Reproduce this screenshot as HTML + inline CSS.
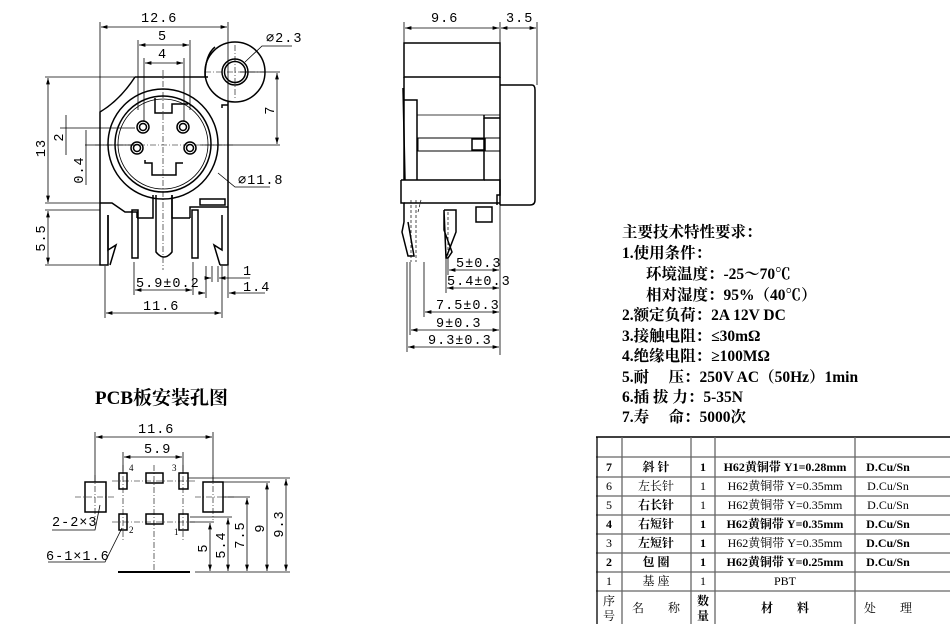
<!DOCTYPE html>
<html><head><meta charset="utf-8"><style>
html,body{margin:0;padding:0;background:#fff}
svg{display:block}
text{font-family:"Liberation Serif","Noto Serif CJK SC",serif;fill:#000}
.d text{font-family:"Liberation Mono","Noto Sans CJK SC",monospace;font-size:13.5px;letter-spacing:1px}
.b{font-weight:bold}
</style></head><body>
<svg width="950" height="624" viewBox="0 0 950 624" xmlns="http://www.w3.org/2000/svg">
<defs>
<marker id="a" viewBox="0 0 10 6" refX="10" refY="3" markerWidth="8" markerHeight="5" orient="auto-start-reverse"><path d="M0,0L10,3L0,6z" fill="#000"/></marker>
</defs>
<g stroke="#000" fill="none" stroke-width="0.8">
<line x1="100" y1="22" x2="100" y2="112"/><line x1="228" y1="22" x2="228" y2="105"/>
<line x1="101" y1="27" x2="227" y2="27" marker-start="url(#a)" marker-end="url(#a)"/>
<line x1="138" y1="40" x2="138" y2="110"/><line x1="190" y1="40" x2="190" y2="110"/>
<line x1="139" y1="45" x2="189" y2="45" marker-start="url(#a)" marker-end="url(#a)"/>
<line x1="144" y1="58" x2="144" y2="122"/><line x1="184" y1="58" x2="184" y2="122"/>
<line x1="145" y1="63" x2="183" y2="63" marker-start="url(#a)" marker-end="url(#a)"/>
<path d="M245,62 L262,46 L292,46"/>
<line x1="45" y1="77" x2="135" y2="77"/>
<line x1="48" y1="78" x2="48" y2="202" marker-start="url(#a)" marker-end="url(#a)"/>
<line x1="45" y1="203" x2="100" y2="203"/><line x1="45" y1="210" x2="100" y2="210"/>
<line x1="48" y1="211" x2="48" y2="264" marker-start="url(#a)" marker-end="url(#a)"/>
<line x1="45" y1="265" x2="100" y2="265"/>
<line x1="60" y1="128" x2="135" y2="128"/><line x1="85" y1="145" x2="135" y2="145"/>
<line x1="66" y1="115" x2="66" y2="155"/><line x1="86" y1="130" x2="86" y2="185"/>
<line x1="240" y1="72" x2="280" y2="72"/><line x1="200" y1="145" x2="280" y2="145"/>
<line x1="277" y1="73" x2="277" y2="144" marker-start="url(#a)" marker-end="url(#a)"/>
<path d="M218,173 L235,187 L270,187"/>
<line x1="134" y1="262" x2="134" y2="295"/><line x1="193" y1="262" x2="193" y2="295"/>
<line x1="135" y1="290" x2="192" y2="290" marker-start="url(#a)" marker-end="url(#a)"/>
<line x1="105" y1="266" x2="105" y2="318"/><line x1="222" y1="266" x2="222" y2="318"/>
<line x1="106" y1="313" x2="221" y2="313" marker-start="url(#a)" marker-end="url(#a)"/>
<line x1="212" y1="266" x2="212" y2="282"/><line x1="218" y1="266" x2="218" y2="282"/>
<line x1="205" y1="278" x2="211" y2="278" marker-end="url(#a)"/><line x1="219" y1="278" x2="250" y2="278" marker-start="url(#a)"/>
<line x1="206" y1="266" x2="206" y2="298"/><line x1="228" y1="266" x2="228" y2="298"/>
<line x1="198" y1="293" x2="205" y2="293" marker-end="url(#a)"/><line x1="229" y1="293" x2="265" y2="293" marker-start="url(#a)"/>
<g stroke-width="1.5">
<circle cx="235" cy="72" r="30"/><circle cx="235" cy="72" r="13"/><circle cx="235" cy="72" r="10.5"/>
<path d="M135,77 L208,77 M205,77 Q205,55 215,47 M135,77 Q120,100 100,112 L100,265 L108,265 L108,215"/>
<path d="M228,105 L222,105 L222,108 M228,102 L228,265 L220,265"/>
<circle cx="163" cy="144" r="55"/><circle cx="163" cy="144" r="48"/>
<circle cx="163" cy="144" r="45" stroke-width="0.8"/>
<circle cx="143" cy="127" r="6"/><circle cx="143" cy="127" r="3.5"/>
<circle cx="183" cy="127" r="6"/><circle cx="183" cy="127" r="3.5"/>
<circle cx="137" cy="148" r="6"/><circle cx="137" cy="148" r="3.5"/>
<circle cx="190" cy="148" r="6"/><circle cx="190" cy="148" r="3.5"/>
<path d="M155,98 L155,113 L172,113 L172,104 L188,104"/>
<path d="M145,160 L145,163 L152,163 L152,175 L176,175 L176,163 L183,163"/>
<rect x="200" y="199" width="25" height="6"/>
<path d="M100,203 L112,203 L125,212 L137,212 L137,218 M228,207 L190,207 L190,218 M153,195 L153,218 L137,218 M172,195 L172,218 L190,218"/>
<path d="M156,195 L156,252 Q164,262 172,252 L172,195"/>
<rect x="132" y="210" width="6" height="48"/><rect x="192" y="210" width="6" height="48"/>
<path d="M108,215 L108,250 L116,245 L110,265 M222,215 L222,250 L214,245 L220,265"/>
</g>
<g stroke-dasharray="6,2,1,2" stroke-width="0.6">
<line x1="163" y1="70" x2="163" y2="270"/><line x1="95" y1="145" x2="235" y2="145"/>
<line x1="235" y1="45" x2="235" y2="100"/><line x1="205" y1="72" x2="265" y2="72"/>
</g>
<line x1="404" y1="22" x2="404" y2="43"/><line x1="500" y1="22" x2="500" y2="43"/><line x1="537" y1="22" x2="537" y2="85"/>
<line x1="405" y1="28" x2="499" y2="28" marker-start="url(#a)" marker-end="url(#a)"/>
<line x1="501" y1="28" x2="536" y2="28" marker-start="url(#a)" marker-end="url(#a)"/>
<g stroke-width="1.5">
<rect x="404" y="43" width="96" height="34"/>
<path d="M404,77 L404,180 M500,77 L500,205"/>
<path d="M500,85 L532,85 Q535,85 535,90 L535,200 Q535,205 530,205 L500,205"/>
<path d="M403,88 L405,180 M404,100 L417,100 L417,180"/>
<line x1="417" y1="115" x2="500" y2="115" stroke-width="0.8"/>
<path d="M484,115 L484,118 L500,118"/>
<rect x="418" y="138" width="82" height="13" stroke-width="1"/>
<rect x="472" y="139" width="13" height="11"/>
<path d="M401,180 L401,203 L404,203 L404,222 M401,180 L404,180 L484,180 L484,118"/>
<path d="M484,180 L500,180 L500,195 L497,195 L497,205 M404,203 L500,203"/>
<rect x="476" y="207" width="16" height="15"/>
<path d="M404,222 L402,232 L408,256 L414,256 L408,222"/>
<path d="M444,210 L444,230 L452,252 L448,258 L446,258 L444,210 M444,210 L456,210 L456,232 L446,258"/>
</g>
<g stroke-dasharray="3,2" stroke-width="0.7">
<path d="M411,200 L411,262 M416,200 L416,262 M418,212 L421,200 M448,212 L448,258"/>
</g>
<line x1="500" y1="205" x2="500" y2="355"/>
<line x1="448" y1="258" x2="448" y2="275"/><line x1="449" y1="270" x2="499" y2="270" marker-start="url(#a)" marker-end="url(#a)"/>
<line x1="446" y1="258" x2="446" y2="293"/><line x1="447" y1="288" x2="499" y2="288" marker-start="url(#a)" marker-end="url(#a)"/>
<line x1="424" y1="262" x2="424" y2="317"/><line x1="425" y1="312" x2="499" y2="312" marker-start="url(#a)" marker-end="url(#a)"/>
<line x1="410" y1="262" x2="410" y2="335"/><line x1="411" y1="330" x2="499" y2="330" marker-start="url(#a)" marker-end="url(#a)"/>
<line x1="407" y1="262" x2="407" y2="352"/><line x1="408" y1="347" x2="499" y2="347" marker-start="url(#a)" marker-end="url(#a)"/>
<line x1="95" y1="432" x2="95" y2="482"/><line x1="213" y1="432" x2="213" y2="482"/>
<line x1="96" y1="437" x2="212" y2="437" marker-start="url(#a)" marker-end="url(#a)"/>
<line x1="123" y1="452" x2="123" y2="473"/><line x1="183" y1="452" x2="183" y2="473"/>
<line x1="124" y1="457" x2="182" y2="457" marker-start="url(#a)" marker-end="url(#a)"/>
<g stroke-width="1.5">
<rect x="85" y="482" width="21" height="30"/><rect x="203" y="482" width="20" height="30"/>
<rect x="119" y="473" width="8" height="16"/><rect x="146" y="473" width="17" height="10"/><rect x="179" y="473" width="9" height="16"/>
<rect x="119" y="514" width="8" height="16"/><rect x="146" y="514" width="17" height="10"/><rect x="179" y="514" width="9" height="16"/>
<line x1="118" y1="572" x2="190" y2="572" stroke-width="2"/>
</g>
<g stroke-dasharray="6,2,1,2" stroke-width="0.6">
<line x1="154" y1="465" x2="154" y2="572"/><line x1="123" y1="465" x2="123" y2="540"/><line x1="183" y1="465" x2="183" y2="540"/>
<line x1="95" y1="475" x2="95" y2="520"/><line x1="213" y1="475" x2="213" y2="520"/>
<line x1="75" y1="497" x2="115" y2="497"/><line x1="195" y1="497" x2="235" y2="497"/>
<line x1="112" y1="481" x2="195" y2="481"/><line x1="112" y1="522" x2="195" y2="522"/>
</g>
<line x1="188" y1="478" x2="290" y2="478"/><line x1="223" y1="482" x2="270" y2="482"/>
<line x1="223" y1="497" x2="250" y2="497"/><line x1="190" y1="517" x2="232" y2="517"/><line x1="190" y1="522" x2="214" y2="522"/>
<line x1="210" y1="523" x2="210" y2="571" marker-start="url(#a)" marker-end="url(#a)"/>
<line x1="228" y1="518" x2="228" y2="571" marker-start="url(#a)" marker-end="url(#a)"/>
<line x1="247" y1="498" x2="247" y2="571" marker-start="url(#a)" marker-end="url(#a)"/>
<line x1="267" y1="483" x2="267" y2="571" marker-start="url(#a)" marker-end="url(#a)"/>
<line x1="286" y1="479" x2="286" y2="571" marker-start="url(#a)" marker-end="url(#a)"/>
<line x1="195" y1="572" x2="290" y2="572"/>
<path d="M100,505 L95,530 L52,530" /><path d="M122,528 L105,562 L48,562"/>
<g stroke="#666" stroke-width="1.3">
<line x1="596" y1="437" x2="950" y2="437" stroke="#000" stroke-width="1.5"/>
<line x1="596" y1="457" x2="950" y2="457"/><line x1="596" y1="477" x2="950" y2="477"/>
<line x1="596" y1="496" x2="950" y2="496"/><line x1="596" y1="515" x2="950" y2="515"/>
<line x1="596" y1="534" x2="950" y2="534"/><line x1="596" y1="553" x2="950" y2="553"/>
<line x1="596" y1="572" x2="950" y2="572"/><line x1="596" y1="591" x2="950" y2="591"/>
<line x1="597" y1="437" x2="597" y2="624" stroke="#000"/><line x1="622" y1="437" x2="622" y2="624"/>
<line x1="691" y1="437" x2="691" y2="624"/><line x1="715" y1="437" x2="715" y2="624"/>
<line x1="855" y1="437" x2="855" y2="624"/>
</g>
</g>
<g class="d">
<text x="141" y="22">12.6</text><text x="158" y="40">5</text><text x="158" y="58">4</text>
<text x="266" y="42">⌀2.3</text><text x="238" y="184">⌀11.8</text>
<text x="45" y="148" transform="rotate(-90 45 148)" text-anchor="middle">13</text>
<text x="45" y="238" transform="rotate(-90 45 238)" text-anchor="middle">5.5</text>
<text x="63" y="137" transform="rotate(-90 63 137)" text-anchor="middle">2</text>
<text x="83" y="170" transform="rotate(-90 83 170)" text-anchor="middle">0.4</text>
<text x="274" y="110" transform="rotate(-90 274 110)" text-anchor="middle">7</text>
<text x="136" y="287">5.9±0.2</text><text x="143" y="310">11.6</text>
<text x="243" y="275">1</text><text x="243" y="291">1.4</text>
<text x="431" y="22">9.6</text><text x="506" y="22">3.5</text>
<text x="456" y="267">5±0.3</text><text x="447" y="285">5.4±0.3</text>
<text x="436" y="309">7.5±0.3</text><text x="436" y="327">9±0.3</text><text x="428" y="344">9.3±0.3</text>
<text x="138" y="433">11.6</text><text x="144" y="453">5.9</text>
<text x="52" y="526">2-2×3</text><text x="46" y="560">6-1×1.6</text>
<text x="207" y="548" transform="rotate(-90 207 548)" text-anchor="middle">5</text>
<text x="225" y="545" transform="rotate(-90 225 545)" text-anchor="middle">5.4</text>
<text x="244" y="535" transform="rotate(-90 244 535)" text-anchor="middle">7.5</text>
<text x="264" y="528" transform="rotate(-90 264 528)" text-anchor="middle">9</text>
<text x="283" y="524" transform="rotate(-90 283 524)" text-anchor="middle">9.3</text>
</g>
<g font-size="9"><text x="129" y="471">4</text><text x="172" y="471">3</text><text x="129" y="533">2</text><text x="174" y="535">1</text></g>
<text x="95" y="404" font-size="19" class="b">PCB板安装孔图</text>
<g font-size="15.5" class="b">
<text x="622" y="237">主要技术特性要求：</text>
<text x="622" y="258">1.使用条件：</text>
<text x="646" y="279">环境温度：-25～70℃</text>
<text x="646" y="300">相对湿度：95%（40℃）</text>
<text x="622" y="320">2.额定负荷：2A 12V DC</text>
<text x="622" y="341">3.接触电阻：≤30mΩ</text>
<text x="622" y="361">4.绝缘电阻：≥100MΩ</text>
<text x="622" y="382">5.耐　 压：250V AC（50Hz）1min</text>
<text x="622" y="402">6.插 拔 力：5-35N</text>
<text x="622" y="422">7.寿　 命：5000次</text>
</g>
<g font-size="12" text-anchor="middle">
<text x="609" y="471" class="b">7</text><text x="656" y="471" class="b">斜 针</text><text x="703" y="471" class="b">1</text><text x="785" y="471" class="b">H62黄铜带 Y1=0.28mm</text><text x="888" y="471" class="b">D.Cu/Sn</text>
<text x="609" y="490">6</text><text x="656" y="490">左长针</text><text x="703" y="490">1</text><text x="785" y="490">H62黄铜带 Y=0.35mm</text><text x="888" y="490">D.Cu/Sn</text>
<text x="609" y="509">5</text><text x="656" y="509" class="b">右长针</text><text x="703" y="509">1</text><text x="785" y="509">H62黄铜带 Y=0.35mm</text><text x="888" y="509">D.Cu/Sn</text>
<text x="609" y="528" class="b">4</text><text x="656" y="528" class="b">右短针</text><text x="703" y="528" class="b">1</text><text x="785" y="528" class="b">H62黄铜带 Y=0.35mm</text><text x="888" y="528" class="b">D.Cu/Sn</text>
<text x="609" y="547">3</text><text x="656" y="547" class="b">左短针</text><text x="703" y="547" class="b">1</text><text x="785" y="547">H62黄铜带 Y=0.35mm</text><text x="888" y="547" class="b">D.Cu/Sn</text>
<text x="609" y="566" class="b">2</text><text x="656" y="566" class="b">包 圈</text><text x="703" y="566" class="b">1</text><text x="785" y="566" class="b">H62黄铜带 Y=0.25mm</text><text x="888" y="566" class="b">D.Cu/Sn</text>
<text x="609" y="585">1</text><text x="656" y="585">基 座</text><text x="703" y="585">1</text><text x="785" y="585">PBT</text>
<text x="609" y="605">序</text><text x="609" y="620">号</text><text x="656" y="612">名　　称</text>
<text x="703" y="605" class="b">数</text><text x="703" y="620" class="b">量</text>
<text x="785" y="612" class="b">材　　料</text><text x="888" y="612">处　　理</text>
</g>
</svg>
</body></html>
